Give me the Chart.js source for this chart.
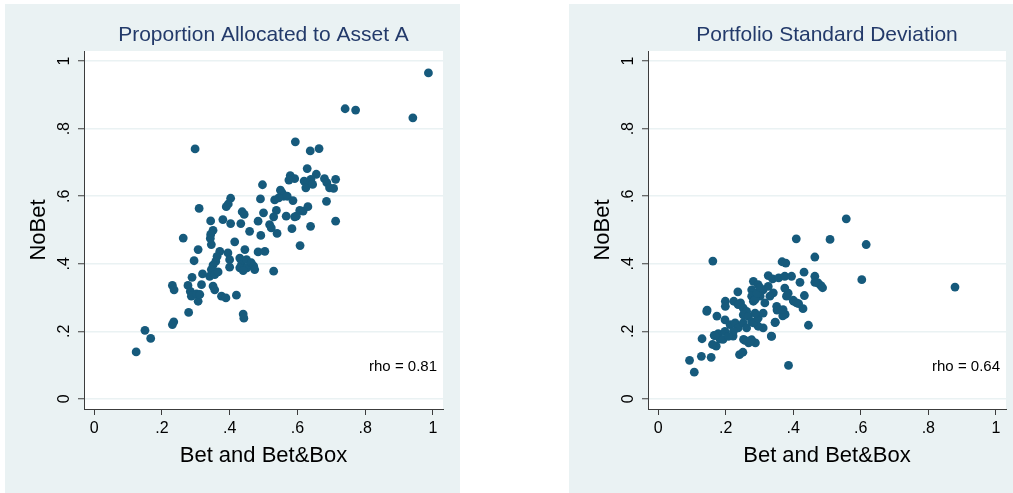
<!DOCTYPE html>
<html>
<head>
<meta charset="utf-8">
<script src="https://cdn.jsdelivr.net/npm/chart.js@4/dist/chart.umd.min.js"></script>
<style>
body{margin:0;background:#fff;width:1013px;height:493px;overflow:hidden;position:relative}
.panel{position:absolute;top:4px;height:489px;background:#eaf2f3}
#p1{left:5px;width:455px}
#p2{left:569px;width:444px}
canvas{display:block}
</style>
</head>
<body>
<div class="panel" id="p1"><canvas id="chart1" width="455" height="489"></canvas></div>
<div class="panel" id="p2"><canvas id="chart2" width="444" height="489"></canvas></div>
<script>
// panel titles, axis titles, ticks
var titles = ["Proportion Allocated to Asset A", "Portfolio Standard Deviation"];
var xTitle = "Bet and Bet&Box";
var yTitle = "NoBet";
var tickValues = [0, 0.2, 0.4, 0.6, 0.8, 1];
var tickLabels = ["0", ".2", ".4", ".6", ".8", "1"];
var rhoLabels = ["rho = 0.81", "rho = 0.64"];

// Proportion allocated to asset A
var allocX = [0.987,0.741,0.772,0.941,0.298,0.594,0.638,0.664,0.629,0.656,0.620,0.630,0.625,0.640,0.645,0.680,0.687,0.713,0.695,0.707,
  0.579,0.592,0.575,0.497,0.686,0.713,0.639,0.584,0.550,0.555,0.560,0.570,0.545,0.491,0.533,0.587,0.500,0.538,0.530,0.567,
  0.607,0.617,0.631,0.597,0.592,0.484,0.518,0.523,0.540,0.492,0.459,0.608,0.484,0.504,0.530,0.433,0.437,0.443,0.403,0.396,
  0.390,0.380,0.403,0.310,0.344,0.351,0.344,0.346,0.343,0.263,0.415,0.307,0.371,0.363,0.359,0.395,0.400,0.400,0.445,0.430,
  0.435,0.450,0.451,0.430,0.440,0.464,0.471,0.474,0.295,0.351,0.346,0.341,0.356,0.366,0.320,0.289,0.277,0.284,0.287,0.302,
  0.307,0.317,0.312,0.231,0.236,0.351,0.356,0.376,0.389,0.420,0.279,0.440,0.442,0.235,0.231,0.150,0.167,0.124];
var allocY = [0.965,0.859,0.855,0.832,0.740,0.761,0.734,0.741,0.682,0.665,0.645,0.638,0.625,0.650,0.635,0.652,0.640,0.650,0.625,0.623,
  0.661,0.652,0.648,0.634,0.585,0.526,0.511,0.504,0.618,0.610,0.600,0.600,0.595,0.592,0.589,0.587,0.551,0.558,0.539,0.541,
  0.558,0.556,0.569,0.541,0.539,0.526,0.516,0.506,0.490,0.484,0.496,0.454,0.435,0.437,0.378,0.519,0.554,0.546,0.594,0.577,
  0.569,0.531,0.519,0.564,0.527,0.499,0.487,0.457,0.475,0.476,0.465,0.442,0.437,0.422,0.407,0.432,0.412,0.390,0.442,0.417,
  0.398,0.412,0.388,0.388,0.380,0.403,0.393,0.383,0.409,0.396,0.383,0.363,0.368,0.376,0.370,0.360,0.336,0.318,0.304,0.311,
  0.289,0.338,0.309,0.336,0.323,0.334,0.323,0.304,0.299,0.307,0.256,0.251,0.239,0.228,0.220,0.203,0.179,0.139];

// Portfolio standard deviation
var sdX = [0.879,0.557,0.409,0.509,0.616,0.603,0.162,0.464,0.367,0.378,0.432,0.464,0.474,0.482,0.433,0.445,0.429,0.401,0.416,0.386,
  0.352,0.376,0.369,0.347,0.335,0.145,0.174,0.130,0.128,0.093,0.107,0.157,0.172,0.166,0.161,0.178,0.183,0.192,0.241,0.251,
  0.253,0.268,0.288,0.222,0.277,0.199,0.199,0.236,0.224,0.244,0.237,0.252,0.262,0.282,0.277,0.277,0.282,0.296,0.326,0.339,
  0.357,0.375,0.395,0.420,0.375,0.385,0.380,0.400,0.410,0.326,0.311,0.341,0.331,0.302,0.287,0.316,0.351,0.370,0.144,0.198,
  0.213,0.228,0.237,0.252,0.262,0.223,0.198,0.208,0.257,0.274,0.252,0.267,0.277,0.311,0.296,0.282,0.296,0.311,0.287,0.336,
  0.346,0.168,0.293,0.302,0.487,0.464];
var sdY = [0.331,0.533,0.474,0.472,0.457,0.353,0.408,0.420,0.406,0.402,0.375,0.363,0.343,0.335,0.306,0.218,0.267,0.289,0.282,0.099,
  0.263,0.250,0.246,0.227,0.186,0.263,0.245,0.178,0.126,0.114,0.079,0.123,0.156,0.188,0.161,0.193,0.177,0.176,0.131,0.138,
  0.176,0.166,0.166,0.186,0.175,0.289,0.274,0.317,0.289,0.284,0.279,0.269,0.259,0.348,0.323,0.304,0.289,0.338,0.365,0.355,
  0.358,0.363,0.363,0.345,0.328,0.313,0.304,0.292,0.284,0.333,0.323,0.314,0.304,0.304,0.294,0.284,0.274,0.264,0.259,0.234,
  0.220,0.225,0.210,0.225,0.210,0.200,0.200,0.185,0.173,0.173,0.249,0.244,0.229,0.210,0.215,0.225,0.239,0.254,0.254,0.185,
  0.226,0.187,0.313,0.329,0.329,0.345];

var fontFam = '"Liberation Sans", Arial, Helvetica, sans-serif';
var dotColor = '#165a7c';
var titleColor = '#233a6a';
var axisColor = '#3c3c3c';
var gridColor = '#eaf2f3';

// white plot region inside the tinted panel
var plotBg = {
    id: 'plotBg',
    beforeDraw: function(chart) {
        var ctx = chart.ctx, a = chart.chartArea;
        ctx.save();
        ctx.fillStyle = '#ffffff';
        ctx.fillRect(a.left, a.top, a.right - a.left, a.bottom - a.top);
        ctx.restore();
    }
};

var rhoLabel = {
    id: 'rho',
    afterDatasetsDraw: function(chart, args, opts) {
        var ctx = chart.ctx, area = chart.chartArea;
        ctx.save();
        ctx.font = '15px ' + fontFam;
        ctx.fillStyle = '#000';
        ctx.textAlign = 'right';
        ctx.textBaseline = 'middle';
        ctx.fillText(opts.text, area.right - 6, area.bottom - 42);
        ctx.restore();
    }
};

function setTicks(scale) {
    scale.ticks = tickValues.map(function(v){ return {value: v}; });
}

function makeChart(id, title, xs, ys, rho, plotRight) {
    var canvas = document.getElementById(id);
    var points = xs.map(function(x, i){ return {x: x, y: ys[i]}; });
    return new Chart(canvas.getContext('2d'), {
        type: 'scatter',
        data: {
            datasets: [{
                data: points,
                backgroundColor: dotColor,
                borderWidth: 0,
                pointRadius: 4.4,
                pointHoverRadius: 4.4
            }]
        },
        options: {
            responsive: false,
            animation: false,
            events: [],
            layout: { padding: { left: 0, top: 0, bottom: 0, right: canvas.width - plotRight } },
            plugins: {
                legend: { display: false },
                tooltip: { enabled: false },
                title: {
                    display: true,
                    text: title,
                    fullSize: false,
                    color: titleColor,
                    font: { family: fontFam, size: 21, weight: 'normal' },
                    padding: { top: 18.7, bottom: 3.1 }
                },
                rho: { text: rho }
            },
            scales: {
                x: {
                    type: 'linear', min: -0.03, max: 1.03,
                    afterBuildTicks: setTicks,
                    afterFit: function(s){ s.height = 84; },
                    ticks: {
                        callback: function(v, i){ return tickLabels[i]; },
                        autoSkip: false, maxRotation: 0, minRotation: 0,
                        color: '#000', padding: 4,
                        font: { family: fontFam, size: 16 }
                    },
                    grid: { drawOnChartArea: false, drawTicks: true, tickLength: 6, tickColor: axisColor, tickWidth: 1 },
                    border: { color: axisColor, width: 1 },
                    title: {
                        display: true, text: xTitle, color: '#000',
                        font: { family: fontFam, size: 22 },
                        padding: { top: 0, bottom: 24 }
                    }
                },
                y: {
                    type: 'linear', min: -0.03, max: 1.03,
                    afterBuildTicks: setTicks,
                    afterFit: function(s){ s.width = 79; },
                    ticks: {
                        callback: function(v, i){ return tickLabels[i]; },
                        autoSkip: false, minRotation: 90, maxRotation: 90,
                        crossAlign: 'center', color: '#000', padding: 7,
                        font: { family: fontFam, size: 16 }
                    },
                    grid: { color: gridColor, lineWidth: 1.5, drawTicks: true, tickLength: 6, tickColor: axisColor, tickWidth: 1 },
                    border: { color: axisColor, width: 1 },
                    title: {
                        display: true, text: yTitle, color: '#000',
                        font: { family: fontFam, size: 22 },
                        padding: { top: 21, bottom: 0 }
                    }
                }
            }
        },
        plugins: [plotBg, rhoLabel]
    });
}

makeChart('chart1', titles[0], allocX, allocY, rhoLabels[0], 438);
makeChart('chart2', titles[1], sdX, sdY, rhoLabels[1], 437);
</script>
</body>
</html>
